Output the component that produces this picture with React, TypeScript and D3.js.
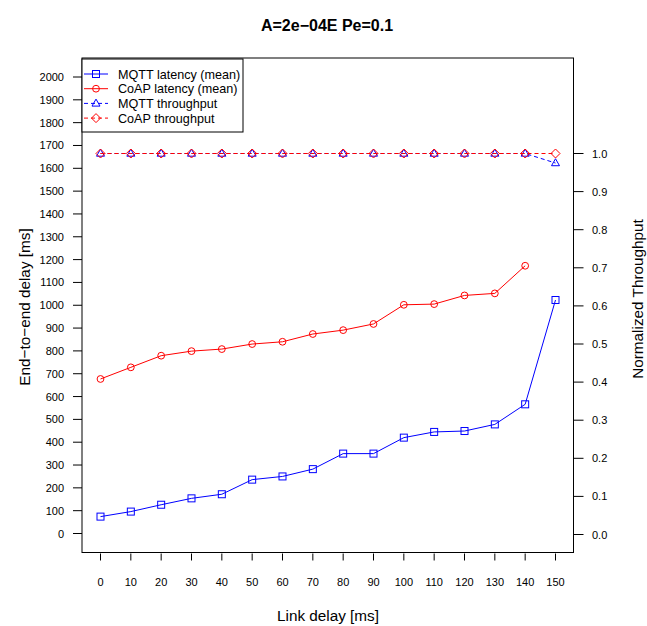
import React from 'react'
import * as d3 from 'd3'

// values
const linkDelay = [0, 10, 20, 30, 40, 50, 60, 70, 80, 90, 100, 110, 120, 130, 140, 150]
const mqttLatency = [74, 96, 126, 154, 172, 236, 250, 282, 350, 350, 420, 445, 449, 478, 566, 1023]
const coapLatency = [677, 728, 779, 799, 808, 830, 840, 874, 891, 918, 1002, 1005, 1043, 1052, 1173, null]
const mqttThroughput = [1, 1, 1, 1, 1, 1, 1, 1, 1, 1, 1, 1, 1, 1, 1, 0.975]
const coapThroughput = [1, 1, 1, 1, 1, 1, 1, 1, 1, 1, 1, 1, 1, 1, 1, 1]
const leftTicks = d3.range(0, 2001, 100)
const rightTicks = d3.range(0, 1.01, 0.1)
const legendLabels = ['MQTT latency (mean)', 'CoAP latency (mean)', 'MQTT throughput', 'CoAP throughput']

const W = 647, H = 626
const box = { left: 82, right: 573.5, top: 58, bottom: 552.5 }
const font = 'Liberation Sans, Arial, Helvetica, sans-serif'
const BLUE = '#0000ff', RED = '#ff0000'

type Shape = 'square' | 'circle' | 'triangle' | 'diamond'

function Marker({ shape, x, y, color }: { shape: Shape; x: number; y: number; color: string }) {
  const common = { fill: 'none', stroke: color, strokeWidth: 1 }
  if (shape === 'square') return <rect x={x - 3.5} y={y - 3.5} width={7} height={7} {...common} />
  if (shape === 'circle') return <circle cx={x} cy={y} r={3.4} {...common} />
  if (shape === 'triangle')
    return <path d={`M${x},${y - 4.3}L${x + 4},${y + 2.7}L${x - 4},${y + 2.7}Z`} {...common} />
  return <path d={`M${x},${y - 4.5}L${x + 4.5},${y}L${x},${y + 4.5}L${x - 4.5},${y}Z`} {...common} />
}

export default function App() {
  const x = d3.scaleLinear().domain([0, 150]).range([100.5, 555.5])
  const yL = d3.scaleLinear().domain([0, 2000]).range([533.5, 77])
  const yR = d3.scaleLinear().domain([0, 1.2]).range([534.5, 77.3])

  const series = [
    { vals: mqttLatency, y: yL, color: BLUE, shape: 'square' as Shape, dash: undefined },
    { vals: coapLatency, y: yL, color: RED, shape: 'circle' as Shape, dash: undefined },
    { vals: mqttThroughput, y: yR, color: BLUE, shape: 'triangle' as Shape, dash: '4,3' },
    { vals: coapThroughput, y: yR, color: RED, shape: 'diamond' as Shape, dash: '4,3' },
  ]

  return (
    <svg width={W} height={H} style={{ position: 'absolute', left: 0, top: 0, background: '#fff' }} fontFamily={font}>
      <rect width={W} height={H} fill="#fff" />
      <text x={327} y={31} textAnchor="middle" fontSize={16} fontWeight="bold">A=2e−04E Pe=0.1</text>

      {series.map((s, i) => {
        const pts = linkDelay.map((d, j) => [d, s.vals[j]] as [number, number | null])
        const line = d3.line<[number, number | null]>()
          .defined(p => p[1] != null)
          .x(p => x(p[0]))
          .y(p => s.y(p[1] as number))
        return (
          <g key={i}>
            <path d={line(pts) || ''} fill="none" stroke={s.color} strokeWidth={1} strokeDasharray={s.dash} />
            {pts.filter(p => p[1] != null).map((p, j) => (
              <Marker key={j} shape={s.shape} x={x(p[0])} y={s.y(p[1] as number)} color={s.color} />
            ))}
          </g>
        )
      })}

      <rect x={box.left} y={box.top} width={box.right - box.left} height={box.bottom - box.top} fill="none" stroke="#000" strokeWidth={1} />

      {/* left axis */}
      {leftTicks.map(t => (
        <g key={t}>
          <line x1={box.left - 9} x2={box.left} y1={yL(t)} y2={yL(t)} stroke="#000" />
          <text x={64} y={yL(t) + 4} textAnchor="end" fontSize={11}>{t}</text>
        </g>
      ))}
      <text transform={`translate(30,307) rotate(-90)`} textAnchor="middle" fontSize={15.3}>End−to−end delay [ms]</text>

      {/* right axis */}
      {rightTicks.map(t => (
        <g key={t}>
          <line x1={box.right} x2={box.right + 10} y1={yR(t)} y2={yR(t)} stroke="#000" />
          <text x={592} y={yR(t) + 4} fontSize={11}>{t.toFixed(1)}</text>
        </g>
      ))}
      <text transform={`translate(643,299) rotate(-90)`} textAnchor="middle" fontSize={15.3}>Normalized Throughput</text>

      {/* bottom axis */}
      {linkDelay.map(t => (
        <g key={t}>
          <line x1={x(t)} x2={x(t)} y1={box.bottom + 1} y2={box.bottom + 8} stroke="#000" />
          <text x={x(t)} y={586} textAnchor="middle" fontSize={11}>{t}</text>
        </g>
      ))}
      <text x={328} y={621} textAnchor="middle" fontSize={15.3}>Link delay [ms]</text>

      {/* legend */}
      <rect x={box.left} y={59} width={161} height={73} fill="#fff" stroke="#000" />
      {legendLabels.map((lab, i) => {
        const s = series[i]
        const ly = 74 + i * 14.7
        return (
          <g key={lab}>
            <line x1={84} x2={108} y1={ly} y2={ly} stroke={s.color} strokeDasharray={s.dash} />
            <Marker shape={s.shape} x={96} y={ly} color={s.color} />
            <text x={118} y={ly + 4.5} fontSize={12.6}>{lab}</text>
          </g>
        )
      })}
    </svg>
  )
}
